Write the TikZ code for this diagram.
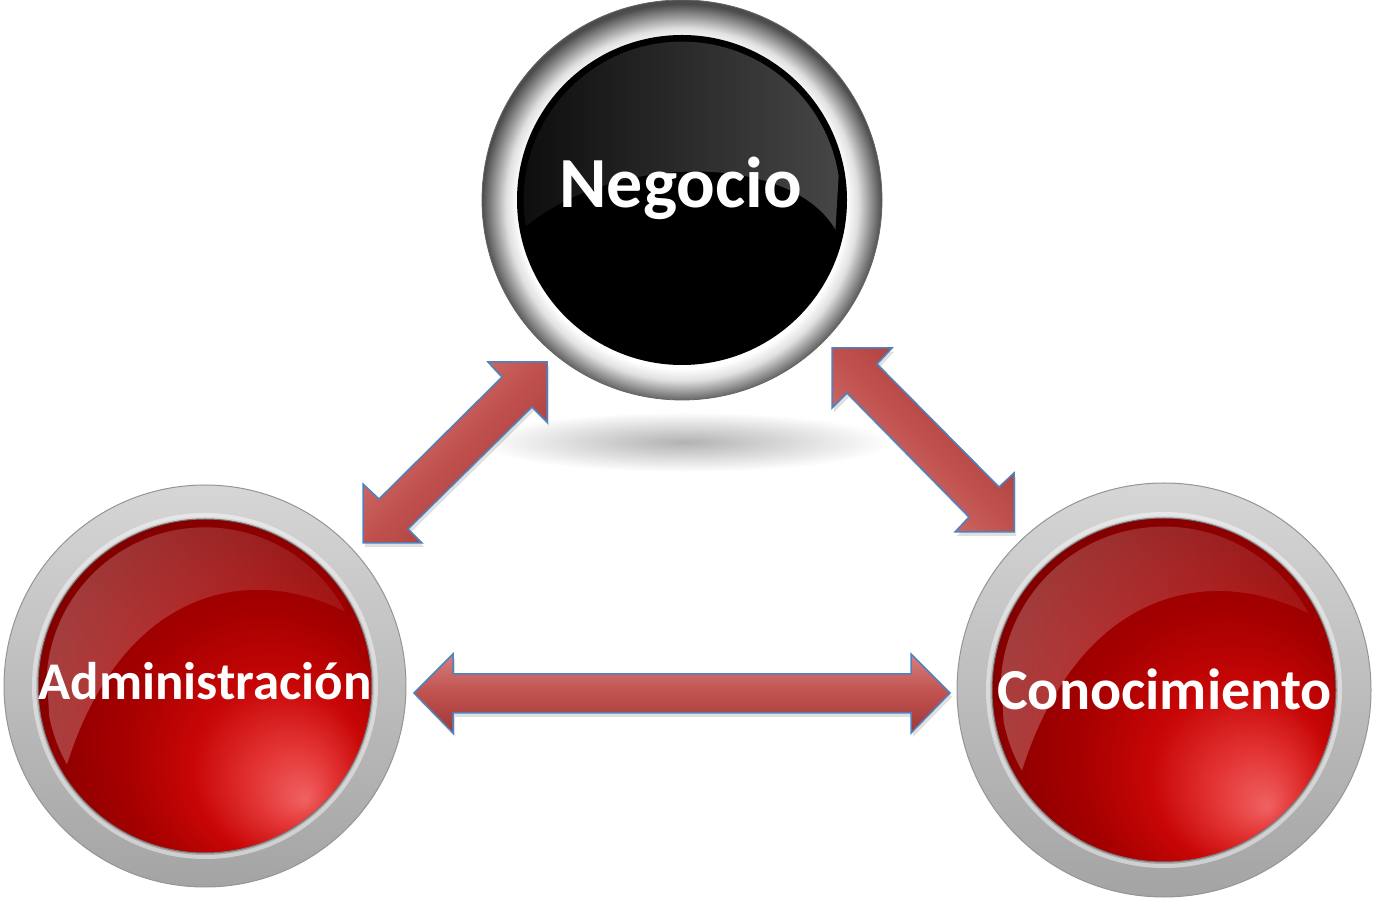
\documentclass[tikz,border=0pt]{standalone}
\usepackage{fontspec}
\setmainfont{Carlito}
\usetikzlibrary{fadings}

\definecolor{arrowblue}{HTML}{4F81BD}
\definecolor{arrowlight}{HTML}{D4807E}
\definecolor{arrowmid}{HTML}{C0504D}
\definecolor{arrowdark}{HTML}{9E3937}
\definecolor{rbLight}{HTML}{F06262}
\definecolor{rbPink}{HTML}{E33434}
\definecolor{rbRed}{HTML}{C80606}
\definecolor{rbMid}{HTML}{A60000}
\definecolor{rbDark}{HTML}{8C0000}
\definecolor{rbDeep}{HTML}{5E0000}
\definecolor{ringtop}{HTML}{D6D6D6}
\definecolor{ringbot}{HTML}{A4A4A4}
\definecolor{ringedge}{HTML}{959595}

\pgfdeclareradialshading{redbutton}{\pgfpoint{15bp}{-17bp}}{color(0bp)=(rbLight); color(6bp)=(rbPink); color(13bp)=(rbRed); color(21bp)=(rbMid); color(30bp)=(rbDark); color(40bp)=(rbDeep!80!rbDark); color(50bp)=(rbDeep)}
\pgfdeclareradialshading{blackring}{\pgfpoint{0bp}{-1bp}}{color(0bp)=(white); color(20.5bp)=(white); color(22bp)=(black!12); color(25bp)=(black!70); color(50bp)=(black!70)}
\tikzfading[name=glossfade, left color=transparent!0, right color=transparent!75]

\begin{document}
\begin{tikzpicture}[x=1pt,y=1pt,
    btntext/.style={text=white,inner sep=0pt,anchor=base},
    dblarrow/.style={draw=arrowblue,line width=1.5pt,line join=miter},
    arrowshadow/.style={fill=black,fill opacity=.12,draw=none}]
  \useasboundingbox (0,0) rectangle (1373,897);

  % shadow under the top button
  \shade[inner color=black!30,outer color=white] (685,455) ellipse [x radius=205,y radius=30];

  % top button
  \shade[shading=blackring,draw=black!60,line width=.8pt] (682,697) circle [radius=200];
  \fill[black] (682,697) circle [radius=165];
  \begin{scope}[shift={(682,697)},scale=165]
    \clip (0,0) circle [radius=.96];
    \shade[left color=black!95,right color=black!72]
      (-.97,-.18) .. controls (-.45,.28) and (.65,.3) .. (.93,-.18) -- (1,1) -- (-1,1) -- cycle;
  \end{scope}
  \node[btntext,font=\bfseries\fontsize{72}{80}\selectfont] (neg) at (680.5,689) {Negocio};

  % red buttons
  \foreach \cx/\cy/\ro/\ri in {205/211/201/167, 1164/207/207/172} {
    \begin{scope}[shift={(\cx,\cy)}]
      \shade[top color=ringtop,bottom color=ringbot,draw=ringedge,line width=1pt] (0,0) circle [radius=\ro];
      \draw[white,line width=4pt,opacity=.45] (0,0) circle [radius=\ri+4];
      \shade[shading=redbutton,draw=ringedge!80!black,line width=1pt] (0,0) circle [radius=\ri];
      \begin{scope}[scale=\ri]
        \clip (0,0) circle [radius=.95];
        \fill[white,fill opacity=.25,path fading=glossfade]
          (-.9,-.75) .. controls (-.6,.65) and (.35,.8) .. (1,.35) -- (1,1) -- (-1,1) -- cycle;
      \end{scope}
    \end{scope}
  }
  \node[btntext,font=\bfseries\fontsize{53}{60}\selectfont] (adm) at (205,197) {Administración};
  \node[btntext,font=\bfseries\fontsize{58}{64}\selectfont] (con) at (1164.5,187) {Conocimiento};

  % arrows
  \fill[arrowshadow] (549,531) -- (490,531) -- (504,516) -- (381,394) -- (365,409) -- (365,350) -- (424,350) -- (410,364) -- (534,486) -- (549,471) -- cycle;
  \path[dblarrow,top color=arrowlight,bottom color=arrowdark,middle color=arrowmid,shading angle=45]
    (547,535) -- (488,535) -- (502,520) -- (379,398) -- (363,413) -- (363,354) -- (422,354) -- (408,368) -- (532,490) -- (547,475) -- cycle;
  \fill[arrowshadow] (834,545) -- (894,545) -- (879,529) -- (1001,406) -- (1016,420) -- (1016,361) -- (957,361) -- (971,376) -- (849,500) -- (834,485) -- cycle;
  \path[dblarrow,top color=arrowdark,bottom color=arrowlight,middle color=arrowmid,shading angle=-45]
    (832,549) -- (892,549) -- (877,533) -- (999,410) -- (1014,424) -- (1014,365) -- (955,365) -- (969,380) -- (847,504) -- (832,489) -- cycle;
  \fill[arrowshadow] (416,200) -- (455,239) -- (455,219) -- (913,219) -- (913,239) -- (952,200) -- (913,160) -- (913,180) -- (455,180) -- (455,160) -- cycle;
  \path[dblarrow,top color=arrowlight,bottom color=arrowdark,middle color=arrowmid]
    (414,204) -- (453,243) -- (453,223) -- (911,223) -- (911,243) -- (950,204) -- (911,164) -- (911,184) -- (453,184) -- (453,164) -- cycle;
\end{tikzpicture}
\end{document}
